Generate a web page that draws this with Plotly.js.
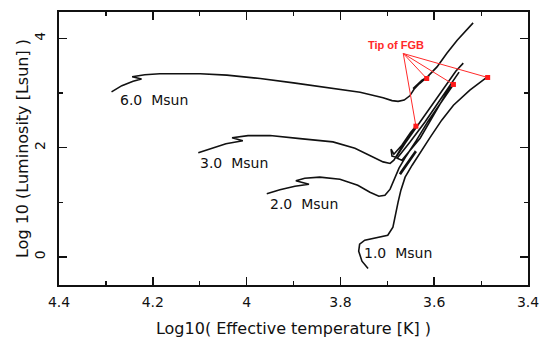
<!DOCTYPE html>
<html>
<head>
<meta charset="utf-8">
<script src="https://cdn.plot.ly/plotly-3.0.1.min.js"></script>
<style>html,body{margin:0;padding:0;background:#fff;}#chart{width:545px;height:348px;}</style>
</head>
<body>
<div id="chart"></div>
<script>
// Evolutionary tracks: log10 Teff (x) and log10 L/Lsun (y)
const m6_logT = [4.288,4.266,4.242,4.224,4.244,4.217,4.185,4.142,4.099,4.042,3.971,3.900,3.822,3.758,3.709,3.690,3.677,3.664,3.652,3.643,3.630,3.616,3.611,3.626,3.643,3.645,3.630,3.613,3.594,3.573,3.551,3.532,3.517];
const m6_logL = [3.022,3.136,3.218,3.258,3.300,3.337,3.355,3.361,3.355,3.328,3.267,3.187,3.099,3.016,2.916,2.862,2.848,2.872,2.950,3.071,3.190,3.267,3.310,3.236,3.108,3.081,3.181,3.310,3.480,3.731,3.969,4.152,4.286];

const m3_logT = [4.103,4.078,4.044,4.008,4.031,3.997,3.950,3.886,3.816,3.769,3.737,3.709,3.694,3.686,3.673,3.656,3.639,3.650,3.669,3.686,3.692,3.690,3.681,3.662,3.635,3.605,3.575,3.554,3.538];
const m3_logL = [1.908,1.982,2.073,2.128,2.183,2.220,2.223,2.165,2.106,1.991,1.853,1.740,1.711,1.771,1.954,2.183,2.394,2.284,2.046,1.881,1.973,1.844,1.826,2.082,2.412,2.778,3.145,3.401,3.548];

const m2_logT = [3.957,3.929,3.897,3.867,3.895,3.876,3.844,3.801,3.763,3.737,3.718,3.705,3.694,3.684,3.675,3.660,3.639,3.613,3.586,3.559,3.569,3.630,3.669,3.679,3.652,3.620,3.588,3.562,3.547];
const m2_logL = [1.158,1.231,1.295,1.331,1.396,1.441,1.460,1.423,1.313,1.185,1.112,1.130,1.240,1.441,1.625,1.844,2.119,2.485,2.833,3.158,3.071,2.174,1.771,1.808,2.101,2.467,2.870,3.200,3.383];

const m1_logT = [3.741,3.754,3.761,3.759,3.748,3.720,3.699,3.688,3.683,3.677,3.671,3.662,3.647,3.630,3.609,3.584,3.559,3.524,3.488];
const m1_logL = [-0.212,-0.079,0.104,0.233,0.306,0.352,0.397,0.544,0.782,1.002,1.222,1.460,1.679,1.894,2.183,2.504,2.778,3.053,3.286];

// 1 Msun core-helium-burning (clump) segment
const m1hb_logT = [3.673,3.641,3.671,3.639,3.672];
const m1hb_logL = [1.515,1.918,1.542,1.936,1.530];

// Tip of first giant branch
const tip_logT = [3.639,3.616,3.559,3.486];
const tip_logL = [2.394,3.267,3.158,3.286];
const tipLabel = "Tip of FGB";
const tipLabelPos = [3.681,3.877];
const tipApex = [3.666,3.725];

const massLabels = ["6.0\u00a0 Msun","3.0\u00a0 Msun","2.0\u00a0 Msun","1.0\u00a0 Msun"];
const massLabel_logT = [4.197,4.027,3.878,3.677];
const massLabel_logL = [2.87,1.716,0.965,0.068];

const xTitle = "Log10( Effective temperature [K] )";
const yTitle = "\u00a0\u00a0\u00a0\u00a0\u00a0\u00a0\u00a0\u00a0\u00a0Log 10 (Luminosity [Lsun] )";

const FONT = "DejaVu Sans, Verdana, sans-serif";
const blackLine = {color:"#111", width:1.6};

const traces = [];
[[m6_logT,m6_logL],[m3_logT,m3_logL],[m2_logT,m2_logL],[m1_logT,m1_logL]].forEach(t=>{
  traces.push({x:t[0], y:t[1], mode:"lines", line:blackLine, hoverinfo:"skip", showlegend:false});
});
traces.push({x:m1hb_logT, y:m1hb_logL, mode:"lines", line:{color:"#111", width:2.6}, hoverinfo:"skip", showlegend:false});

tip_logT.forEach((t,i)=>{
  traces.push({x:[tipApex[0], t], y:[tipApex[1], tip_logL[i]], mode:"lines", line:{color:"#ff2a2a", width:1}, hoverinfo:"skip", showlegend:false});
});
traces.push({x:tip_logT, y:tip_logL, mode:"markers", marker:{symbol:"square", size:5, color:"#ff1a1a"}, hoverinfo:"skip", showlegend:false});

const annotations = massLabels.map((txt,i)=>({
  x:massLabel_logT[i], y:massLabel_logL[i], xref:"x", yref:"y", text:txt, showarrow:false,
  font:{family:FONT, size:14, color:"#111"}
}));
annotations.push({x:tipLabelPos[0], y:tipLabelPos[1], xref:"x", yref:"y", text:"<b>"+tipLabel+"</b>", showarrow:false,
  font:{family:"Liberation Sans, Arial, sans-serif", size:11, color:"#ff2a2a"}});

const axisCommon = {
  showline:true, linecolor:"#111", linewidth:2, mirror:"ticks",
  ticks:"inside", ticklen:8, tickwidth:1.5, tickcolor:"#111",
  showgrid:false, zeroline:false,
  tickfont:{family:FONT, size:14, color:"#111"}
};

const layout = {
  width:545, height:348,
  margin:{l:59, r:17, t:12, b:63},
  paper_bgcolor:"#fff", plot_bgcolor:"#fff",
  showlegend:false,
  xaxis:Object.assign({}, axisCommon, {
    range:[4.4,3.4], tickmode:"linear", tick0:3.4, dtick:0.2,
    minor:{ticks:"inside", ticklen:4, tickwidth:1.2, tickcolor:"#111", dtick:0.1, tick0:3.4, showgrid:false},
    ticklabelstandoff:3,
    title:{text:xTitle, font:{family:FONT, size:16, color:"#111"}, standoff:14}
  }),
  yaxis:Object.assign({}, axisCommon, {
    range:[-0.515,4.485], tickmode:"linear", tick0:0, dtick:2, tickangle:-90,
    minor:{ticks:"inside", ticklen:4, tickwidth:1.2, tickcolor:"#111", dtick:1, tick0:0, showgrid:false},
    ticklabelstandoff:6,
    title:{text:yTitle, font:{family:FONT, size:16, color:"#111"}, standoff:0}
  }),
  annotations:annotations
};

Plotly.newPlot("chart", traces, layout, {displayModeBar:false, staticPlot:true});
</script>
</body>
</html>
